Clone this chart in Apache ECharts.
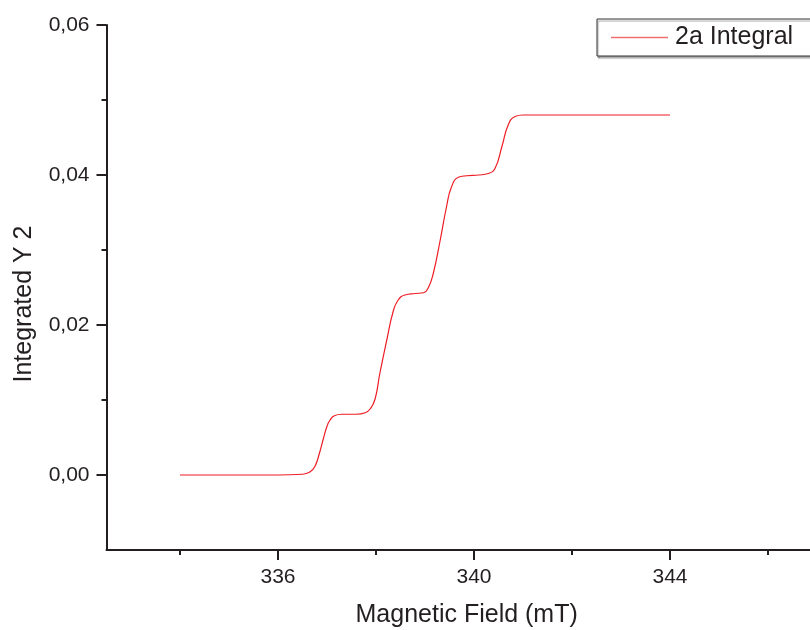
<!DOCTYPE html>
<html>
<head>
<meta charset="utf-8">
<script src="https://cdn.jsdelivr.net/npm/echarts@6/dist/echarts.min.js"></script>
<style>
html,body{margin:0;padding:0;background:#fff;}
#chart{width:810px;height:630px;}
</style>
</head>
<body>
<div id="chart"></div>
<script>
// Magnetic field (mT)
var fieldValues = [334.0, 336.0, 336.5, 336.65, 336.75, 336.85, 336.92, 337.0, 337.06, 337.15, 337.3, 337.6, 337.78, 337.88, 337.98, 338.08, 338.22, 338.35, 338.45, 338.59, 338.8, 338.97, 339.07, 339.17, 339.31, 339.44, 339.54, 339.68, 339.85, 340.1, 340.29, 340.43, 340.57, 340.70, 340.84, 341.0, 342.0, 344.0];
// Integrated Y 2
var integralValues = [0, 0, 0.0001, 0.0004, 0.0011, 0.0030, 0.0047, 0.0065, 0.0073, 0.0079, 0.0081, 0.0081, 0.0083, 0.0088, 0.0101, 0.0136, 0.0180, 0.0218, 0.0233, 0.0240, 0.0242, 0.0243, 0.0250, 0.0269, 0.0313, 0.0358, 0.0384, 0.0397, 0.0399, 0.0400, 0.0402, 0.0409, 0.0438, 0.0467, 0.0478, 0.0480, 0.0480, 0.0480];
var seriesName = '2a Integral';
var xMajorTicks = [336, 340, 344];
var xMinorTicks = [334, 338, 342, 346];
var yMajorTicks = [0, 0.02, 0.04, 0.06];
var yMinorTicks = [0.01, 0.03, 0.05];

var points = fieldValues.map(function (x, i) { return [x, integralValues[i]]; });
var FONT = 'Liberation Sans, Arial, sans-serif';
var AX = '#231f20';

var chart = echarts.init(document.getElementById('chart'), null, {renderer: 'canvas'});
chart.setOption({
  animation: false,
  backgroundColor: '#fff',
  grid: {left: 106.5, top: 25, bottom: 80, width: 720.3, containLabel: false, outerBoundsMode: 'none'},
  legend: {
    data: [seriesName],
    left: 597, top: 19,
    padding: [6, 22, 6, 14],
    borderColor: '#333', borderWidth: 1,
    shadowColor: 'rgba(0,0,0,0.35)', shadowOffsetX: 1, shadowOffsetY: 2, shadowBlur: 1,
    backgroundColor: '#fff',
    icon: 'rect', itemWidth: 57, itemHeight: 1.5,
    itemStyle: {color: '#f07070'},
    textStyle: {fontFamily: FONT, fontSize: 25, color: '#231f20', padding: [0, 0, 0, 2]}
  },
  xAxis: [{
    type: 'value', min: 332.5, max: 347.2, position: 'bottom',
    name: 'Magnetic Field (mT)', nameLocation: 'middle', nameGap: 53,
    nameTextStyle: {fontFamily: FONT, fontSize: 25, color: '#231f20'},
    axisLine: {show: true, onZero: false, lineStyle: {color: AX, width: 2}},
    axisTick: {show: true, inside: false, length: 10, lineStyle: {color: AX, width: 2}, customValues: xMajorTicks},
    axisLabel: {show: true, margin: 17, fontFamily: FONT, fontSize: 21, color: '#231f20', customValues: xMajorTicks},
    splitLine: {show: false}
  }, {
    type: 'value', min: 332.5, max: 347.2, position: 'bottom',
    axisLine: {show: false, onZero: false},
    axisTick: {show: true, inside: false, length: 5, lineStyle: {color: AX, width: 2}, customValues: xMinorTicks},
    axisLabel: {show: false},
    splitLine: {show: false}
  }],
  yAxis: [{
    type: 'value', min: -0.01, max: 0.06, position: 'left',
    name: 'Integrated Y 2', nameLocation: 'middle', nameGap: 70, nameRotate: 90,
    nameTextStyle: {fontFamily: FONT, fontSize: 25, color: '#231f20', padding: [0, 33, 0, 0]},
    axisLine: {show: true, onZero: false, lineStyle: {color: AX, width: 2}},
    axisTick: {show: true, inside: false, length: 10, lineStyle: {color: AX, width: 2}, customValues: yMajorTicks},
    axisLabel: {show: true, margin: 17, fontFamily: FONT, fontSize: 21, color: '#231f20', customValues: yMajorTicks,
      formatter: function (v) { return v.toFixed(2).replace('.', ','); }},
    splitLine: {show: false}
  }, {
    type: 'value', min: -0.01, max: 0.06, position: 'left',
    axisLine: {show: false, onZero: false},
    axisTick: {show: true, inside: false, length: 5, lineStyle: {color: AX, width: 2}, customValues: yMinorTicks},
    axisLabel: {show: false},
    splitLine: {show: false}
  }],
  series: [{
    name: seriesName, type: 'line', data: points,
    xAxisIndex: 0, yAxisIndex: 0,
    showSymbol: false, symbol: 'none',
    smooth: 0.5,
    lineStyle: {color: '#ee1c24', width: 1.2},
    itemStyle: {color: '#ee1c24'}
  }]
});
</script>
</body>
</html>
